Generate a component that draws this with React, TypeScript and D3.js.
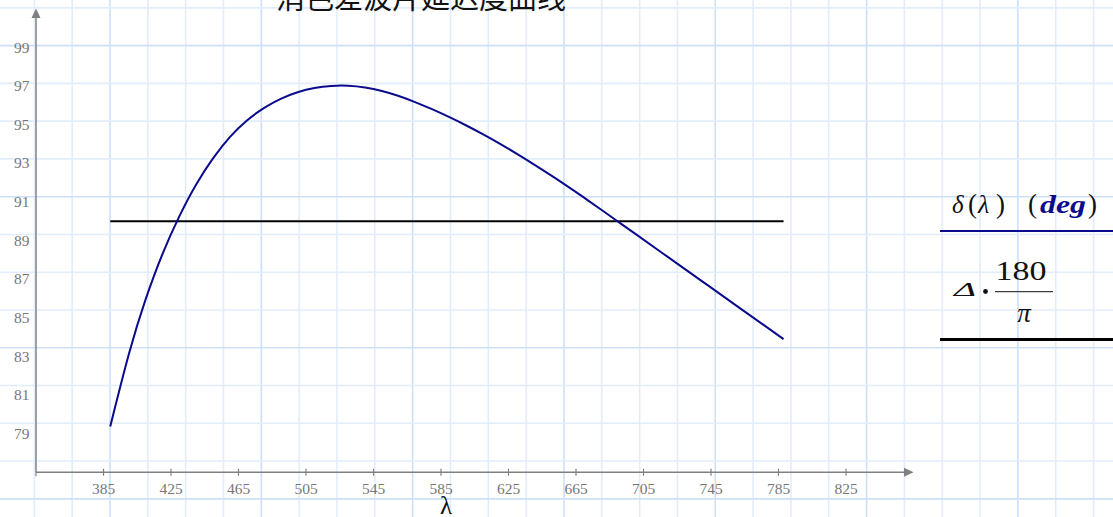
import * as d3 from "d3";

const W = 1113, H = 517;

// wavelength (nm) and retardance (deg)
const lambdaNm = [389, 400, 410, 420, 430, 440, 450, 460, 470, 480, 490, 500, 510, 520, 530, 540, 550, 560, 570, 580, 590, 600, 610, 620, 630, 640, 650, 660, 670, 680, 690, 700, 720, 740, 760, 788];
const retardDeg = [79.37, 83.11, 85.96, 88.31, 90.26, 91.91, 93.26, 94.36, 95.21, 95.85, 96.33, 96.67, 96.89, 97.0, 97.01, 96.92, 96.74, 96.48, 96.15, 95.78, 95.38, 94.95, 94.49, 94.0, 93.48, 92.94, 92.38, 91.8, 91.2, 90.59, 89.97, 89.35, 88.11, 86.87, 85.63, 83.89];
const quarterWave = 90;

const xTicks = [385, 425, 465, 505, 545, 585, 625, 665, 705, 745, 785, 825];
const yTicks = [79, 81, 83, 85, 87, 89, 91, 93, 95, 97, 99];

const title = "消色差波片延迟度曲线";

const x = d3.scaleLinear().domain([345, 865]).range([36, 913.5]);
const y = d3.scaleLinear().domain([77, 101]).range([472.3, 8.6]);

const blue = "#0a0a8c";
const axisGray = "#808080";
const serif = "'Liberation Serif', 'DejaVu Serif', serif";

const App = () => {
  const pts = lambdaNm.map((l, i) => ({ l, v: retardDeg[i] }));
  const curve = d3
    .line<{ l: number; v: number }>()
    .x((d) => x(d.l))
    .y((d) => y(d.v))
    .curve(d3.curveNatural)(pts);

  const flat = d3
    .line<number>()
    .x((d) => x(d))
    .y(() => y(quarterWave))([lambdaNm[0], lambdaNm[lambdaNm.length - 1]]);

  // worksheet grid paper
  const gx = d3.range(-3, 28).map((k) => ({ p: 110 + 37.83 * k, major: k % 4 === 0 }));
  const gy = d3.range(-1, 14).map((k) => ({ p: 45.6 + 37.77 * k, major: k % 4 === 0 }));

  const axisY = y.range()[0];
  const x0 = x.range()[0];
  const xEnd = x.range()[1];
  const yTop = y.range()[1];

  return (
    <svg
      width={W}
      height={H}
      style={{ position: "absolute", left: 0, top: 0, background: "#fff" }}
    >
      {gx.map((g, i) => (
        <line key={"gx" + i} x1={g.p} x2={g.p} y1={0} y2={H}
          stroke={g.major ? "#cde0f8" : "#e2edfb"} strokeWidth={1.6} />
      ))}
      {gy.map((g, i) => (
        <line key={"gy" + i} x1={0} x2={W} y1={g.p} y2={g.p}
          stroke={g.major ? "#cde0f8" : "#e2edfb"} strokeWidth={1.6} />
      ))}

      <text x={421} y={9} textAnchor="middle" fontSize={29}
        fontFamily="'Noto Sans CJK SC', sans-serif" fill="#111">{title}</text>

      {/* axes */}
      <line x1={x0} x2={x0} y1={axisY} y2={yTop + 9} stroke={axisGray} strokeWidth={1.5} />
      <path d={`M${x0},${yTop} L${x0 - 4.5},${yTop + 9.5} L${x0 + 4.5},${yTop + 9.5} Z`} fill={axisGray} />
      <line x1={x0} x2={xEnd - 9} y1={axisY} y2={axisY} stroke={axisGray} strokeWidth={1.5} />
      <path d={`M${xEnd},${axisY} L${xEnd - 9.5},${axisY - 4.5} L${xEnd - 9.5},${axisY + 4.5} Z`} fill={axisGray} />
      <line x1={x0} x2={x0} y1={axisY} y2={axisY + 4} stroke={axisGray} strokeWidth={1.2} />

      {xTicks.map((t) => (
        <g key={"xt" + t}>
          <line x1={x(t)} x2={x(t)} y1={axisY - 3.5} y2={axisY + 3.5} stroke={axisGray} strokeWidth={1.2} />
          <text x={x(t)} y={493.5} textAnchor="middle" fontSize={15.5} fontFamily={serif} fill="#777">{t}</text>
        </g>
      ))}
      {yTicks.map((t) => (
        <text key={"yt" + t} x={29.5} y={y(t) + 5.3} textAnchor="end" fontSize={15.5} fontFamily={serif} fill="#777">{t}</text>
      ))}

      <text x={446} y={514} textAnchor="middle" fontSize={25} fontFamily={serif} fill="#111">λ</text>

      <path d={flat || ""} fill="none" stroke="#000" strokeWidth={2} />
      <path d={curve || ""} fill="none" stroke={blue} strokeWidth={2} />

      {/* legend */}
      <g fontFamily={serif} fill="#111">
        <text y={213} fontSize={25}>
          <tspan x={952} fontStyle="italic">δ</tspan>
          <tspan x={968} fontSize={27}>(</tspan>
          <tspan x={978} fontStyle="italic" fontSize={26}>λ</tspan>
          <tspan x={996} fontSize={27}>)</tspan>
          <tspan x={1028} fontSize={27}>(</tspan>
        </text>
        <text x={1040} y={213} fontSize={25} fontStyle="italic" fontWeight="bold" fill={blue}
          textLength={46} lengthAdjust="spacingAndGlyphs">deg</text>
        <text x={1088} y={213} fontSize={27}>)</text>
        <line x1={940} x2={W} y1={231} y2={231} stroke={blue} strokeWidth={2} />
        <text x={954} y={296} fontSize={19} fontStyle="italic"
          textLength={22} lengthAdjust="spacingAndGlyphs">Δ</text>
        <circle cx={985.5} cy={291.5} r={2.4} fill="#111" />
        <text x={995.5} y={280} fontSize={27} textLength={51} lengthAdjust="spacingAndGlyphs">180</text>
        <line x1={995} x2={1053} y1={291.7} y2={291.7} stroke="#111" strokeWidth={1} />
        <text x={1024} y={322} textAnchor="middle" fontSize={27} fontStyle="italic">π</text>
        <line x1={940} x2={W} y1={339.5} y2={339.5} stroke="#000" strokeWidth={2.8} />
      </g>
    </svg>
  );
};

export default App;
